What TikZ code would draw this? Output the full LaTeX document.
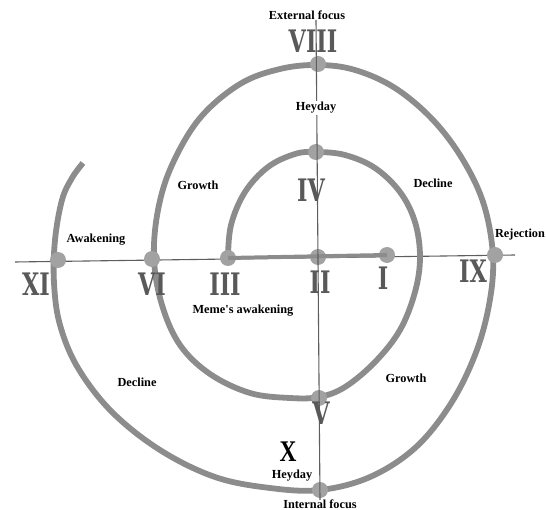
\documentclass[tikz,border=0pt]{standalone}
\usepackage{fontspec}
\setmainfont{Liberation Serif}
\newfontfamily\numfont{DejaVu Serif}[FakeStretch=0.72]
\newfontfamily\xfont{Liberation Serif}[FakeStretch=0.78]
\definecolor{spiralgray}{HTML}{8C8C8C}
\definecolor{dotgray}{HTML}{A2A2A2}
\definecolor{numgray}{HTML}{595959}
\definecolor{axisgray}{HTML}{5E5E5E}
\tikzset{
  lbl/.style={font=\fontsize{12.3}{14}\selectfont\bfseries, inner sep=1pt},
  num/.style={font=\numfont\bfseries\fontsize{31}{31}\selectfont, text=numgray, inner sep=0pt},
  dotnode/.style={circle, fill=dotgray, minimum size=16pt, inner sep=0pt},
  spiral/.style={draw=spiralgray, line width=5.8pt},
  axis/.style={draw=axisgray, line width=1.1pt}
}
\begin{document}
\begin{tikzpicture}[x=1pt,y=-1pt]
\useasboundingbox (0,0) rectangle (546,510);
% axis end points
\coordinate (hl) at (15,262);
\coordinate (hr) at (515,255);
\coordinate (vt) at (316,20);
\coordinate (vb) at (320,500);
% horizontal axis
\draw[axis] (hl) -- (hr);
% spiral
\draw[spiral, line cap=butt] plot[smooth, tension=0.6] coordinates {
 (228,258) (231,225) (245,192) (268,167) (295,154) (316,152) (345,155)
 (375,168) (400,192) (415,222) (420,257) (415,292)
 (400,330) (375,362) (345,387) (319,397) (290,398) (250,393)
 (210,374) (180,345) (162,305) (154,259) (158,210) (172,165)
 (200,118) (240,84) (280,69) (318,65) (355,70) (395,88)
 (433,120) (463,160) (484,205) (493,257) (489,305) (475,355)
 (450,405) (415,448) (370,477) (320,490) (270,488) (215,477)
 (160,450) (112,412) (78,368) (60,325) (54,283) (55,240) (62,200)
 (72,178) (83,163)};
% dots
\node[dotnode] (p1) at (387,255) {};
\node[dotnode] (p2) at (318,257) {};
\node[dotnode] (p3) at (228,258) {};
\node[dotnode] (p4) at (316,152) {};
\node[dotnode] (p5) at (319,398) {};
\node[dotnode] (p6) at (152,259) {};
\node[dotnode] (p8) at (318,64) {};
\node[dotnode] (p9) at (495,255) {};
\node[dotnode] (p10) at (320,490) {};
\node[dotnode] (p11) at (58,260) {};
% thick segment between III and I
\draw[draw=spiralgray, line width=4pt] (p3.center) -- (p1.center);
% vertical axis
\draw[axis] (vt) -- (vb);
% labels
\node[lbl] (ext) at (307,15) {External focus};
\node[lbl, fill=white] (hey1) at (316,108) {Heyday};
\node[lbl] (gro1) at (198,185) {Growth};
\node[lbl] (dec1) at (433,183) {Decline};
\node[lbl] (awk) at (96,240) {Awakening};
\node[lbl] (rej) at (520,235) {Rejection};
\node[lbl] (meme) at (243,311) {Meme\textquotesingle s awakening};
\node[lbl] (dec2) at (137,382) {Decline};
\node[lbl] (gro2) at (406,378) {Growth};
\node[lbl] (hey2) at (292,476) {Heyday};
\node[lbl] (int) at (320,504) {Internal focus};
% roman numerals
\node[num] (n8) at (313,41) {VIII};
\node[num] (n4) at (311,190) {IV};
\node[num] (n11) at (36,284) {XI};
\node[num] (n6) at (152,284) {VI};
\node[num] (n3) at (225,284) {III};
\node[num] (n2) at (320,282) {II};
\node[num] (n1) at (383,278) {I};
\node[num] (n9) at (473,271) {IX};
\node[num] (n5) at (321,413) {V};
\node[font=\xfont\bfseries\fontsize{30}{30}\selectfont, inner sep=0pt] (n10) at (288,452) {X};
\end{tikzpicture}
\end{document}
